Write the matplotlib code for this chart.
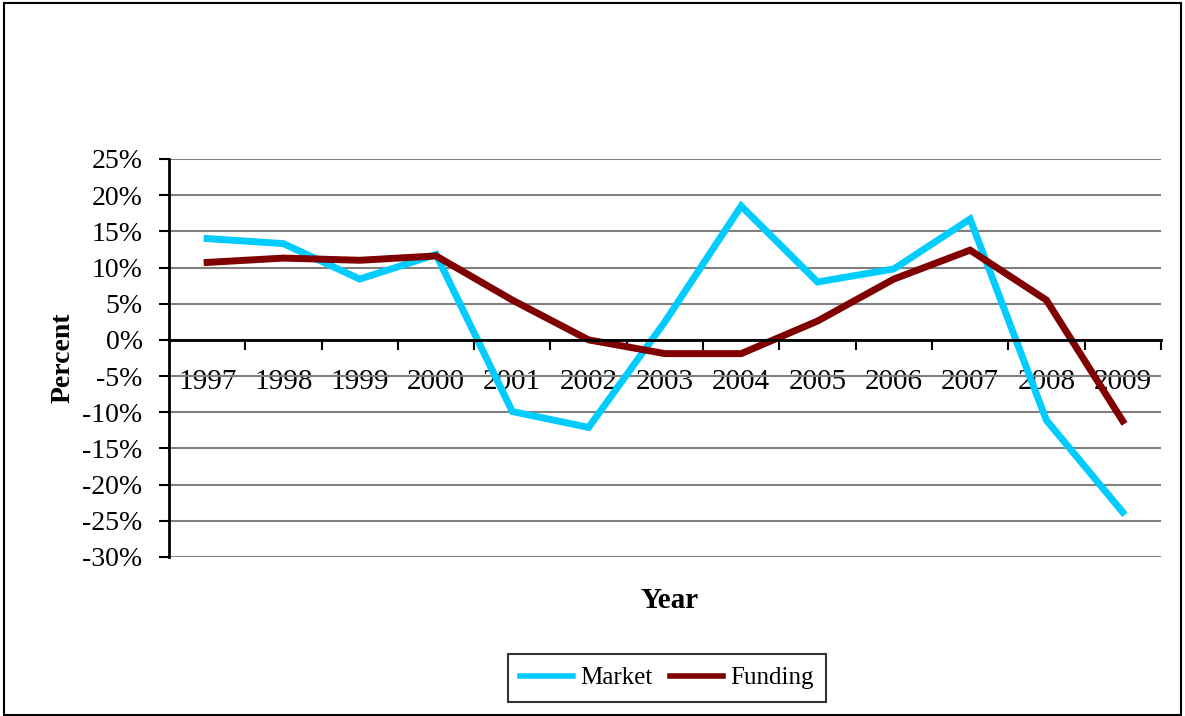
import numpy as np
import matplotlib.pyplot as plt
from matplotlib.patches import Rectangle
from matplotlib.ticker import FuncFormatter

plt.rcParams['font.family'] = ['Liberation Serif', 'DejaVu Serif']

years = ['1997', '1998', '1999', '2000', '2001', '2002', '2003',
         '2004', '2005', '2006', '2007', '2008', '2009']
market = [14.0, 13.3, 8.4, 11.8, -9.9, -12.1, 2.5, 18.5, 8.0, 9.8, 16.7, -11.1, -23.8]
funding = [10.7, 11.3, 11.0, 11.6, 5.5, 0.0, -1.9, -1.9, 2.6, 8.4, 12.4, 5.5, -11.2]

fig = plt.figure(figsize=(11.85, 7.16), dpi=100)
ax = fig.add_axes([0.1426, 0.2221, 0.837, 0.5559])

x = np.arange(len(years))
ax.plot(x, market, color='#00CCFF', lw=5, label='Market', solid_joinstyle='miter')
ax.plot(x, funding, color='#800000', lw=5, label='Funding', solid_joinstyle='miter')

ax.set_ylim(-30, 25)
ax.set_yticks(np.arange(-30, 26, 5))
ax.yaxis.set_major_formatter(FuncFormatter(lambda v, p: '%d%%' % v))
ax.set_xlim(-0.5, len(years) - 0.5)
ax.grid(axis='y', color='#808080', lw=1.5)
ax.set_axisbelow(True)

for s in ['top', 'right']:
    ax.spines[s].set_visible(False)
ax.spines['bottom'].set_position(('data', 0))
ax.spines['bottom'].set_linewidth(2)
ax.spines['left'].set_linewidth(2)

ax.set_xticks(x)
ax.set_xticklabels(years)
ax.set_xticks(np.arange(0.5, len(years), 1), minor=True)
ax.tick_params(axis='x', which='major', length=0, pad=21, labelsize=21)
ax.tick_params(axis='x', which='minor', length=7, width=1.5, direction='out')
ax.tick_params(axis='y', length=7, width=1.5, labelsize=20, pad=12)

ax.set_ylabel('Percent', fontsize=20, fontweight='bold', labelpad=5)
fig.text(670 / 1185, 1 - 600 / 716, 'Year', fontsize=21, fontweight='bold',
         ha='center', va='center')

leg = ax.legend(loc='center', bbox_to_anchor=(667 / 1185, 1 - 678 / 716),
                bbox_transform=fig.transFigure, ncol=2, fontsize=18,
                frameon=True, fancybox=False, edgecolor='black',
                handlelength=2.1, handletextpad=0.3, columnspacing=0.7,
                borderpad=0.5)
leg.get_frame().set_linewidth(1.5)
for h in leg.get_lines():
    h.set_linewidth(4)

fig.patches.append(Rectangle((0.003, 0.002), 0.994, 0.994, transform=fig.transFigure,
                             fill=False, edgecolor='black', lw=1.5))

fig.savefig('out.png', dpi=100)
